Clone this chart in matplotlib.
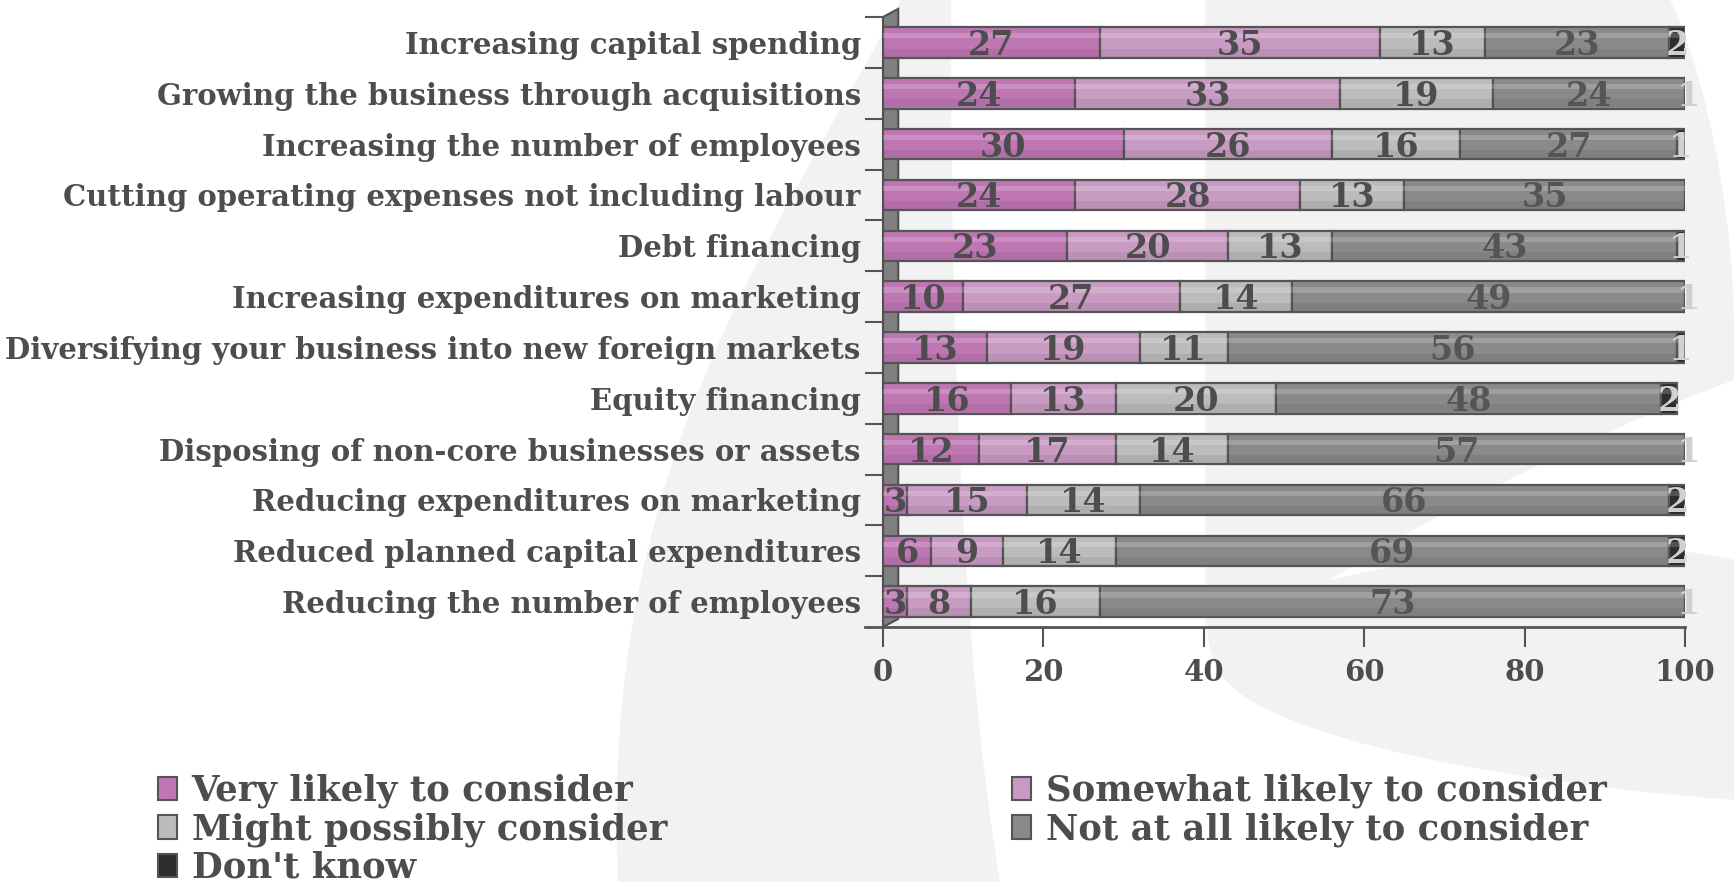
import matplotlib
matplotlib.use("Agg")
import matplotlib.pyplot as plt
from matplotlib.patches import Patch, Polygon, PathPatch
from matplotlib.path import Path
import numpy as np

categories = [
    "Increasing capital spending",
    "Growing the business through acquisitions",
    "Increasing the number of employees",
    "Cutting operating expenses not including labour",
    "Debt financing",
    "Increasing expenditures on marketing",
    "Diversifying your business into new foreign markets",
    "Equity financing",
    "Disposing of non-core businesses or assets",
    "Reducing expenditures on marketing",
    "Reduced planned capital expenditures",
    "Reducing the number of employees",
]
series_names = [
    "Very likely to consider",
    "Somewhat likely to consider",
    "Might possibly consider",
    "Not at all likely to consider",
    "Don't know",
]
very_likely = [27, 24, 30, 24, 23, 10, 13, 16, 12, 3, 6, 3]
somewhat_likely = [35, 33, 26, 28, 20, 27, 19, 13, 17, 15, 9, 8]
might_possibly = [13, 19, 16, 13, 13, 14, 11, 20, 14, 14, 14, 16]
not_at_all = [23, 24, 27, 35, 43, 49, 56, 48, 57, 66, 69, 73]
dont_know = [2, 1, 1, 0, 1, 1, 1, 2, 1, 2, 2, 1]
x_ticks = [0, 20, 40, 60, 80, 100]

series = [very_likely, somewhat_likely, might_possibly, not_at_all, dont_know]
colors = ["#bf77b4", "#c99bc3", "#bcbcbc", "#8a8a8a", "#2e2e2e"]
label_colors = ["#4d4d4d", "#4d4d4d", "#4d4d4d", "#555555", "#d0d0d0"]
TXT = "#4d4d4d"
FONT = "DejaVu Serif"
BG_GRAY = "#f2f2f2"

W, H = 1734, 882
fig = plt.figure(figsize=(W / 100, H / 100), dpi=100)
fig.patch.set_facecolor("white")


def px(pts):
    return [(x / W, 1 - y / H) for x, y in pts]


def add_bg(pts, codes, color=BG_GRAY):
    p = Path(px(pts), codes)
    fig.patches.append(PathPatch(p, transform=fig.transFigure, facecolor=color,
                                 edgecolor="none", zorder=-10))

M, C, L, Z = Path.MOVETO, Path.CURVE4, Path.LINETO, Path.CLOSEPOLY
# left gray swoosh band
add_bg([(901, 0), (760, 260), (600, 480), (618, 882),
        (1000, 882), (960, 640), (950, 300), (951, 0), (901, 0)],
       [M, C, C, C, L, C, C, C, Z])
# right gray region
add_bg([(1205, 0), (1670, 0),
        (1700, 60), (1734, 200), (1734, 330),
        (1734, 800),
        (1600, 790), (1350, 760), (1250, 700),
        (1215, 680), (1205, 650), (1205, 600),
        (1205, 0)],
       [M, L, C, C, C, L, C, C, C, C, C, C, Z])
# white swoosh on the right
add_bg([(1734, 380), (1600, 430), (1420, 520), (1330, 580),
        (1500, 540), (1650, 540), (1734, 560), (1734, 380)],
       [M, C, C, C, C, C, C, Z], color="white")

ax = fig.add_axes([883 / W, 1 - 627 / H, (1685 - 883) / W, (627 - 17) / H])
ax.set_facecolor("none")

y = np.arange(len(categories))
ax.set_xlim(0, 100)
ax.set_ylim(len(categories) - 0.5, -0.5)

# 3D wall on the left
wall = Polygon([(0, 11.5), (0, -0.5), (1.9, -0.66), (1.9, 11.34)], closed=True,
               facecolor="#808080", edgecolor="#505050", linewidth=1.5,
               zorder=1, clip_on=False)
ax.add_patch(wall)

bar_h = 0.6
left = np.zeros(len(categories))
for vals, col, lcol, name in zip(series, colors, label_colors, series_names):
    vals = np.array(vals, dtype=float)
    ax.barh(y, vals, left=left, height=bar_h, color=col, edgecolor="#555555",
            linewidth=1.6, zorder=3, label=name)
    ax.barh(y - 0.13, vals, left=left, height=0.1, color="white", alpha=0.18,
            linewidth=0, zorder=4)
    ax.barh(y + 0.2, vals, left=left, height=0.16, color="black", alpha=0.07,
            linewidth=0, zorder=4)
    for yi, (l, v) in enumerate(zip(left, vals)):
        if v > 0:
            ax.text(l + v / 2, yi + 0.06, f"{int(v)}", ha="center", va="center",
                    fontsize=24, fontweight="bold", family=FONT, color=lcol,
                    zorder=5, clip_on=False)
    left += vals

for s in ["top", "right", "left", "bottom"]:
    ax.spines[s].set_visible(False)
ax.plot([-0.0225, 1.0], [0, 0], transform=ax.transAxes, color="#555555",
        linewidth=2, clip_on=False, zorder=6)

ax.set_xticks(x_ticks)
ax.set_xticklabels([str(t) for t in x_ticks])
ax.tick_params(axis="x", direction="out", length=14.5, width=1.5, color="#555555",
               pad=8, labelsize=21, labelcolor=TXT)
ax.set_yticks(y)
ax.set_yticklabels(categories)
ax.tick_params(axis="y", which="major", length=0, pad=16, labelsize=21, labelcolor=TXT)
ax.set_yticks(np.arange(-0.5, len(categories) - 1, 1.0), minor=True)
ax.tick_params(axis="y", which="minor", direction="out", length=13, width=1.5,
               color="#555555")
for lab in ax.get_xticklabels() + ax.get_yticklabels():
    lab.set_fontfamily(FONT)
    lab.set_fontweight("bold")

# legends
handles = [Patch(facecolor=c, edgecolor="#555555", linewidth=1.5) for c in colors]
leg_kw = dict(frameon=False, handlelength=0.55, handleheight=0.65, handletextpad=0.4,
              labelspacing=0.11, borderaxespad=0, borderpad=0,
              prop={"family": FONT, "weight": "bold", "size": 25.5}, labelcolor=TXT)
l1 = fig.legend([handles[0], handles[2], handles[4]],
                [series_names[0], series_names[2], series_names[4]],
                loc="upper left", bbox_to_anchor=(158 / W, 1 - 774 / H), **leg_kw)
l2 = fig.legend([handles[1], handles[3]], [series_names[1], series_names[3]],
                loc="upper left", bbox_to_anchor=(1012 / W, 1 - 774 / H), **leg_kw)

fig.savefig("out.png", dpi=100, facecolor=fig.get_facecolor())
